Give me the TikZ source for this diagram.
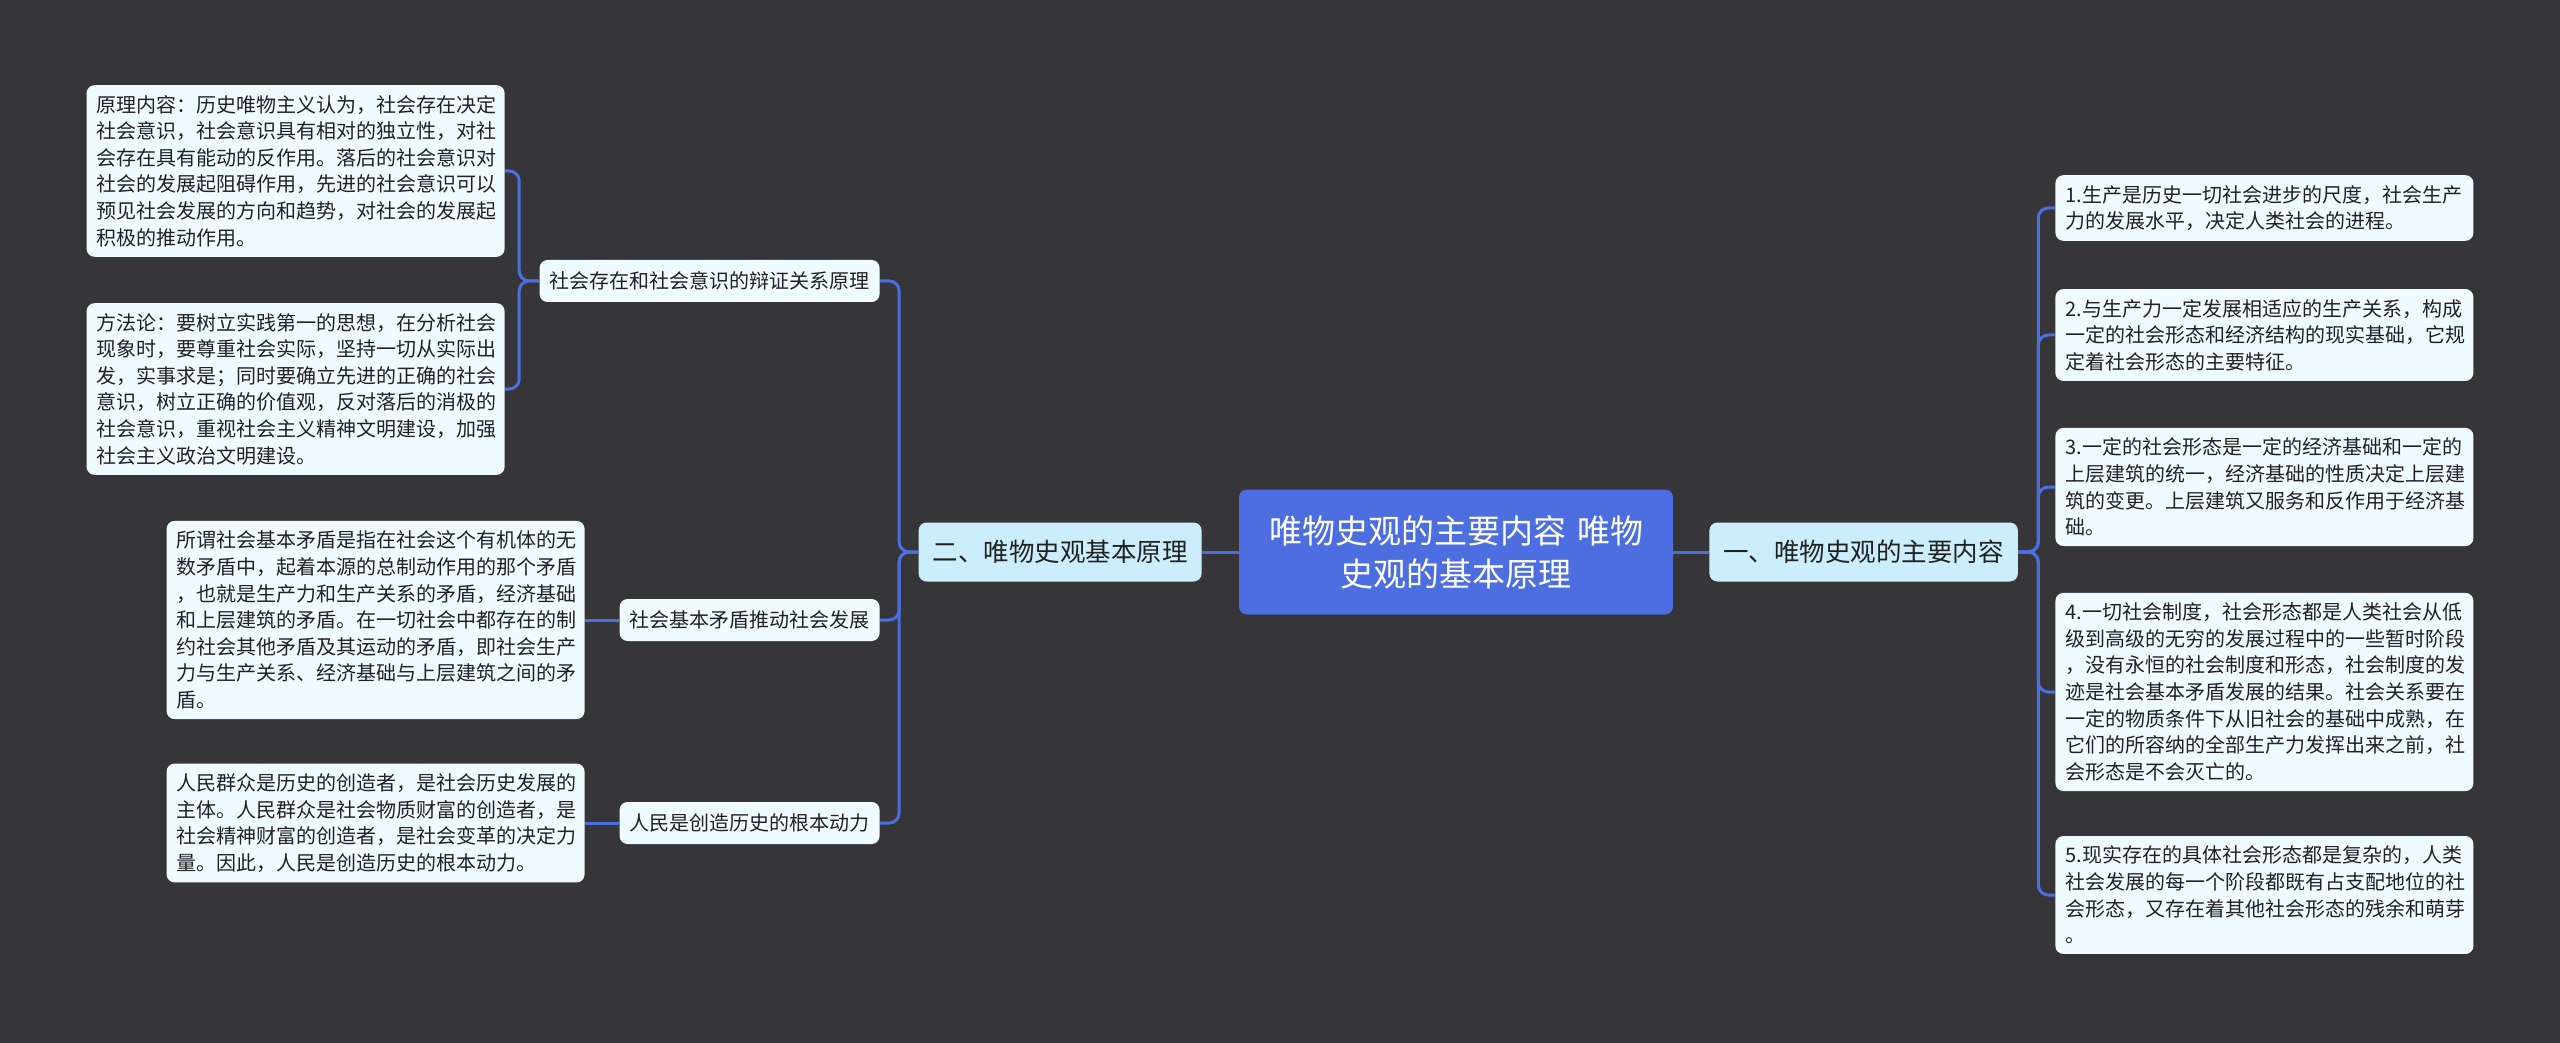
\documentclass[tikz,border=0pt]{standalone}
\usepackage{fontspec}
\setmainfont{Noto Sans CJK SC}
\usepackage{xcolor}
\usepackage{tikz}
\usetikzlibrary{positioning}

\definecolor{bgc}{RGB}{54,54,57}
\definecolor{linkc}{RGB}{77,110,224}
\definecolor{leafc}{RGB}{240,251,255}
\definecolor{mainc}{RGB}{204,238,252}
\definecolor{inkc}{RGB}{33,33,33}

\begin{document}
\begin{tikzpicture}[
  x=0.5pt, y=-0.5pt,
  root/.style={rectangle,rounded corners=4pt,fill=linkc,text=white,align=center,
    text width=200pt,inner xsep=8.5pt,minimum height=62.5pt,
    font=\fontsize{16.5pt}{21.5pt}\selectfont},
  main/.style={rectangle,rounded corners=4pt,fill=mainc,text=inkc,
    inner xsep=7pt,inner ysep=0pt,minimum height=29.5pt,
    font=\fontsize{12.75pt}{15pt}\selectfont},
  sub/.style={rectangle,rounded corners=4pt,fill=leafc,text=inkc,
    inner xsep=5pt,inner ysep=0pt,minimum height=21pt,
    font=\fontsize{10pt}{12pt}\selectfont},
  leaf/.style={rectangle,rounded corners=4pt,fill=leafc,text=inkc,align=left,
    text width=199pt,inner xsep=5pt,inner ysep=5pt,
    font=\fontsize{10pt}{13.3pt}\selectfont},
  link/.style={draw=linkc,line width=1.5pt,rounded corners=5pt}
]
\fill[bgc] (0,0) rectangle (2560,1043);

% centre and first level
\node[root] (root) at (1456,552) {唯物史观的主要内容 唯物\\史观的基本原理};
\node[main, anchor=west] (main1) at (1709,552) {一、唯物史观的主要内容};
\node[main, anchor=east] (main2) at (1202,552) {二、唯物史观基本原理};

% left branch
\node[sub, anchor=east] (sub1) at (880,281) {社会存在和社会意识的辩证关系原理};
\node[sub, anchor=east] (sub2) at (880,620) {社会基本矛盾推动社会发展};
\node[sub, anchor=east] (sub3) at (880,823) {人民是创造历史的根本动力};

\node[leaf, anchor=east] (yuanli) at (505,171) {原理内容：历史唯物主义认为，社会存在决定\\社会意识，社会意识具有相对的独立性，对社\\会存在具有能动的反作用。落后的社会意识对\\社会的发展起阻碍作用，先进的社会意识可以\\预见社会发展的方向和趋势，对社会的发展起\\积极的推动作用。};
\node[leaf, anchor=east] (fangfa) at (505,389) {方法论：要树立实践第一的思想，在分析社会\\现象时，要尊重社会实际，坚持一切从实际出\\发，实事求是；同时要确立先进的正确的社会\\意识，树立正确的价值观，反对落后的消极的\\社会意识，重视社会主义精神文明建设，加强\\社会主义政治文明建设。};
\node[leaf, anchor=east] (maodun) at (585,620) {所谓社会基本矛盾是指在社会这个有机体的无\\数矛盾中，起着本源的总制动作用的那个矛盾\\，也就是生产力和生产关系的矛盾，经济基础\\和上层建筑的矛盾。在一切社会中都存在的制\\约社会其他矛盾及其运动的矛盾，即社会生产\\力与生产关系、经济基础与上层建筑之间的矛\\盾。};
\node[leaf, anchor=east] (renmin) at (585,823) {人民群众是历史的创造者，是社会历史发展的\\主体。人民群众是社会物质财富的创造者，是\\社会精神财富的创造者，是社会变革的决定力\\量。因此，人民是创造历史的根本动力。};

% right branch
\node[leaf, anchor=west] (r1) at (2055,208) {1.生产是历史一切社会进步的尺度，社会生产\\力的发展水平，决定人类社会的进程。};
\node[leaf, anchor=west] (r2) at (2055,335) {2.与生产力一定发展相适应的生产关系，构成\\一定的社会形态和经济结构的现实基础，它规\\定着社会形态的主要特征。};
\node[leaf, anchor=west] (r3) at (2055,487) {3.一定的社会形态是一定的经济基础和一定的\\上层建筑的统一，经济基础的性质决定上层建\\筑的变更。上层建筑又服务和反作用于经济基\\础。};
\node[leaf, anchor=west] (r4) at (2055,692) {4.一切社会制度，社会形态都是人类社会从低\\级到高级的无穷的发展过程中的一些暂时阶段\\，没有永恒的社会制度和形态，社会制度的发\\迹是社会基本矛盾发展的结果。社会关系要在\\一定的物质条件下从旧社会的基础中成熟，在\\它们的所容纳的全部生产力发挥出来之前，社\\会形态是不会灭亡的。};
\node[leaf, anchor=west] (r5) at (2055,895) {5.现实存在的具体社会形态都是复杂的，人类\\社会发展的每一个阶段都既有占支配地位的社\\会形态，又存在着其他社会形态的残余和萌芽\\。};

% connectors
\draw[link] (root.east) -- (main1.west);
\draw[link] (root.west) -- (main2.east);
\foreach \n in {r1,r2,r3,r4,r5}
  \draw[link] (main1.east) -- ++(20,0) |- (\n.west);
\foreach \n in {sub1,sub2,sub3}
  \draw[link] (main2.west) -- ++(-19,0) |- (\n.east);
\foreach \n in {yuanli,fangfa}
  \draw[link] (sub1.west) -- ++(-20,0) |- (\n.east);
\draw[link] (sub2.west) -- (maodun.east);
\draw[link] (sub3.west) -- (renmin.east);
\end{tikzpicture}
\end{document}
